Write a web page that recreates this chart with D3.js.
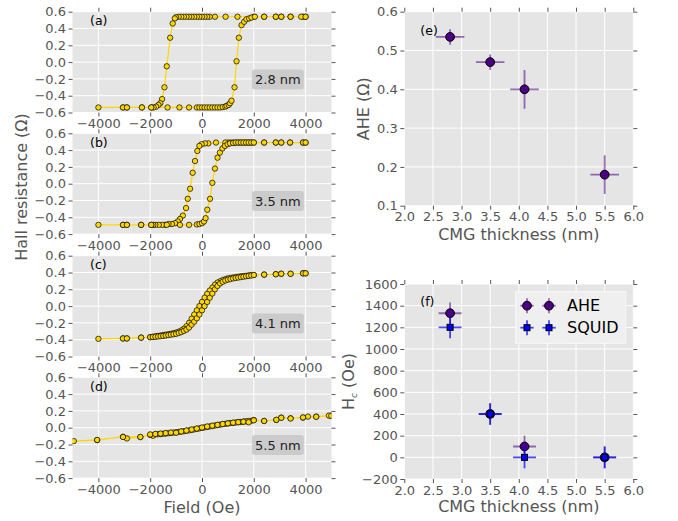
<!DOCTYPE html>
<html><head><meta charset="utf-8">
<script src="https://cdn.jsdelivr.net/npm/d3@7"></script>
<style>body{margin:0;background:#fff} text{font-family:"DejaVu Sans",sans-serif}</style>
</head><body><svg id="c" width="678" height="521"></svg>
<script>
// ---------- DATA ----------
const fieldTicks = [-4000, -2000, 0, 2000, 4000];
const resTicks = [-0.6, -0.4, -0.2, 0.0, 0.2, 0.4, 0.6];
const panelLabels = ["(a)", "(b)", "(c)", "(d)"];
const thicknessLabels = ["2.8 nm", "3.5 nm", "4.1 nm", "5.5 nm"];

// (field Oe, Hall resistance Ohm), measurement order: down sweep then up sweep
const loopA = [[4000,0.54],[3900,0.54],[3420,0.54],[3060,0.54],[2850,0.54],[2400,0.54],[2000,0.54],[1370,0.54],[910,0.54],[500,0.54],[300,0.54],[200,0.54],[100,0.54],[0,0.54],[-100,0.54],[-200,0.54],[-300,0.54],[-400,0.54],[-500,0.54],[-600,0.54],[-700,0.54],[-800,0.54],[-900,0.54],[-1000,0.535],[-1050,0.52],[-1130,0.46],[-1230,0.29],[-1360,-0.05],[-1450,-0.30],[-1540,-0.44],[-1610,-0.49],[-1680,-0.51],[-1770,-0.53],[-1870,-0.54],[-1960,-0.54],[-2320,-0.54],[-2900,-0.54],[-3050,-0.54],[-4000,-0.54],
[-3050,-0.54],[-2900,-0.54],[-2320,-0.54],[-1960,-0.54],[-1330,-0.54],[-870,-0.54],[-500,-0.54],[-200,-0.54],[-100,-0.54],[0,-0.54],[100,-0.54],[200,-0.54],[300,-0.54],[400,-0.54],[500,-0.54],[600,-0.54],[700,-0.54],[800,-0.535],[900,-0.53],[950,-0.52],[1030,-0.51],[1080,-0.49],[1140,-0.46],[1256,-0.30],[1333,0.01],[1423,0.29],[1526,0.44],[1628,0.48],[1718,0.51],[1820,0.52],[1910,0.53],[2040,0.54],[2400,0.54],[2850,0.54],[3060,0.54],[3420,0.54],[3830,0.54],[4000,0.54]];

const loopB = [[4000,0.49],[3900,0.49],[3400,0.49],[3060,0.49],[2850,0.49],[2400,0.49],[2000,0.49],[1900,0.49],[1800,0.49],[1700,0.49],[1600,0.49],[1500,0.49],[1400,0.49],[1300,0.49],[1200,0.49],[1100,0.49],[1000,0.49],[900,0.49],[540,0.49],[244,0.48],[115,0.48],[-13,0.47],[-100,0.45],[-180,0.39],[-270,0.27],[-360,0.13],[-460,-0.06],[-550,-0.18],[-615,-0.29],[-740,-0.38],[-850,-0.42],[-935,-0.45],[-1040,-0.47],[-1160,-0.48],[-1290,-0.48],[-1420,-0.49],[-1540,-0.49],[-1670,-0.49],[-1800,-0.49],[-1880,-0.49],[-1960,-0.49],[-2350,-0.49],[-2900,-0.49],[-3050,-0.49],[-4000,-0.49],
[-3050,-0.49],[-2900,-0.49],[-2350,-0.49],[-1960,-0.49],[-1360,-0.49],[-850,-0.49],[-500,-0.49],[-200,-0.485],[-100,-0.48],[0,-0.47],[77,-0.45],[140,-0.41],[205,-0.31],[310,-0.18],[400,0.01],[500,0.18],[600,0.31],[690,0.37],[790,0.42],[885,0.45],[990,0.47],[1080,0.48],[1200,0.485],[1300,0.49],[1400,0.49],[1500,0.49],[1600,0.49],[1700,0.49],[1800,0.49],[1900,0.49],[2000,0.49],[2400,0.49],[2850,0.49],[3060,0.49],[3400,0.49],[3900,0.49],[4000,0.49]];

const loopC = [[4000,0.39],[3900,0.39],[3420,0.385],[3060,0.385],[2850,0.38],[2400,0.375],[2000,0.37],[1900,0.368],[1800,0.365],[1700,0.362],[1600,0.358],[1500,0.355],[1400,0.35],[1300,0.345],[1200,0.34],[1100,0.335],[1000,0.33],[900,0.32],[800,0.31],[700,0.295],[600,0.28],[500,0.255],[400,0.22],[300,0.185],[200,0.145],[100,0.1],[0,0.05],[-100,0.0],[-200,-0.05],[-300,-0.1],[-400,-0.15],[-500,-0.2],[-600,-0.24],[-700,-0.27],[-800,-0.29],[-900,-0.305],[-1000,-0.315],[-1100,-0.322],[-1200,-0.33],[-1300,-0.335],[-1400,-0.34],[-1500,-0.345],[-1600,-0.35],[-1700,-0.355],[-1800,-0.36],[-1900,-0.365],[-2000,-0.37],[-2350,-0.375],[-2900,-0.385],[-3050,-0.385],[-4000,-0.39],
[-3050,-0.385],[-2900,-0.385],[-2350,-0.375],[-2000,-0.37],[-1900,-0.368],[-1800,-0.365],[-1700,-0.362],[-1600,-0.358],[-1500,-0.355],[-1400,-0.35],[-1300,-0.345],[-1200,-0.34],[-1100,-0.335],[-1000,-0.33],[-900,-0.32],[-800,-0.31],[-700,-0.295],[-600,-0.28],[-500,-0.255],[-400,-0.22],[-300,-0.185],[-200,-0.145],[-100,-0.1],[0,-0.05],[100,0.0],[200,0.05],[300,0.1],[400,0.15],[500,0.2],[600,0.24],[700,0.27],[800,0.29],[900,0.305],[1000,0.315],[1100,0.322],[1200,0.33],[1300,0.335],[1400,0.34],[1500,0.345],[1600,0.35],[1700,0.355],[1800,0.36],[1900,0.365],[2000,0.37],[2400,0.375],[2850,0.38],[3060,0.385],[3420,0.385],[3900,0.39],[4000,0.39]];

const loopD = [[4990,0.144],[4900,0.144],[4410,0.132],[4090,0.132],[3900,0.12],[3420,0.112],[3060,0.12],[2870,0.092],[2400,0.08],[2000,0.092],[1900,0.082],[1800,0.08],[1700,0.076],[1600,0.072],[1500,0.068],[1400,0.066],[1300,0.062],[1200,0.058],[1100,0.055],[1000,0.05],[900,0.046],[800,0.042],[700,0.036],[600,0.032],[500,0.026],[400,0.02],[300,0.015],[200,0.01],[100,0.004],[0,-0.002],[-100,-0.008],[-200,-0.014],[-300,-0.02],[-400,-0.026],[-500,-0.032],[-600,-0.036],[-700,-0.042],[-800,-0.046],[-900,-0.05],[-1000,-0.055],[-1100,-0.058],[-1200,-0.062],[-1300,-0.066],[-1400,-0.07],[-1500,-0.072],[-1600,-0.076],[-1700,-0.078],[-1800,-0.08],[-1900,-0.096],[-2000,-0.085],[-2380,-0.112],[-2900,-0.128],[-3050,-0.108],[-4050,-0.148],[-4950,-0.16],
[-4050,-0.146],[-3050,-0.11],[-2380,-0.11],[-2000,-0.08],[-1800,-0.074],[-1600,-0.07],[-1400,-0.064],[-1200,-0.058],[-1000,-0.06],[-800,-0.044],[-600,-0.034],[-400,-0.022],[-200,-0.01],[0,0.002],[200,0.014],[400,0.024],[600,0.034],[800,0.044],[1000,0.052],[1200,0.06],[1400,0.066],[1600,0.072],[1800,0.065],[2000,0.088],[2400,0.08],[2870,0.094],[3060,0.118],[3420,0.11],[3900,0.122],[4410,0.13],[4990,0.142]];

const loops = [loopA, loopB, loopC, loopD];

// Panels (e), (f)
const thickness = [2.8, 3.5, 4.1, 5.5];
const aheValue = [0.535, 0.47, 0.40, 0.18];
const aheValueErr = [0.02, 0.02, 0.05, 0.05];
const thicknessErrE = [0.25, 0.25, 0.25, 0.25];
const hcAHE = [1330, 400, 100, 0];
const hcSQUID = [1200, 400, 0, 0];
const hcErr = [100, 100, 100, 100];
const thicknessErrF = [0.2, 0.2, 0.2, 0.2];
const thickTicks = [2.0, 2.5, 3.0, 3.5, 4.0, 4.5, 5.0, 5.5, 6.0];
const aheTicks = [0.1, 0.2, 0.3, 0.4, 0.5, 0.6];
const hcTicks = [-200, 0, 200, 400, 600, 800, 1000, 1200, 1400, 1600];
const legendLabels = ["AHE", "SQUID"];

// ---------- DRAW ----------
const svg = d3.select("#c");
const BG = "#E5E5E5", TXT = "#555555";
const INDIGO = "#4B0082", BLUE = "#0000FF", GOLD = "#FFD700";
let clipId = 0;

function drawAxes(x, y, xTicks, yTicks, xFmt, yFmt) {
  const [x0, x1] = x.range(), [yb, yt] = y.range();
  svg.append("rect").attr("x", x0).attr("y", yt).attr("width", x1 - x0).attr("height", yb - yt).attr("fill", BG);
  const grid = svg.append("g").attr("stroke", "#fff").attr("stroke-width", 1);
  xTicks.forEach(t => grid.append("line").attr("x1", x(t)).attr("x2", x(t)).attr("y1", yt).attr("y2", yb));
  yTicks.forEach(t => grid.append("line").attr("x1", x0).attr("x2", x1).attr("y1", y(t)).attr("y2", y(t)));
  const axes = [
    [d3.axisBottom(x).tickValues(xTicks).tickFormat(xFmt), `translate(0,${yb})`],
    [d3.axisTop(x).tickValues(xTicks).tickFormat(""), `translate(0,${yt})`],
    [d3.axisLeft(y).tickValues(yTicks).tickFormat(yFmt), `translate(${x0},0)`],
    [d3.axisRight(y).tickValues(yTicks).tickFormat(""), `translate(${x1},0)`]
  ];
  axes.forEach(([ax, tr]) => {
    const g = svg.append("g").attr("transform", tr).call(ax.tickSize(4).tickPadding(2.5));
    g.select(".domain").remove();
    g.selectAll(".tick line").attr("stroke", TXT).attr("stroke-width", 1);
    g.selectAll(".tick text").attr("fill", TXT).attr("font-size", 13).attr("font-family", "DejaVu Sans");
  });
}
function clipGroup(x, y) {
  const id = "clip" + (clipId++);
  const [x0, x1] = x.range(), [yb, yt] = y.range();
  svg.append("clipPath").attr("id", id).append("rect").attr("x", x0).attr("y", yt).attr("width", x1 - x0).attr("height", yb - yt);
  return svg.append("g").attr("clip-path", `url(#${id})`);
}

// Hysteresis panels
const hx0 = 72.5, hx1 = 331.5;
const panelTops = [11.7, 133.3, 255.7, 377.3];
const panelH = 100.8;
const fmt1 = d3.format(".1f");
loops.forEach((loop, i) => {
  const top = panelTops[i];
  const x = d3.scaleLinear().domain([-5000, 5000]).range([hx0, hx1]);
  const y = d3.scaleLinear().domain([-0.6, 0.6]).range([top + panelH, top]);
  drawAxes(x, y, fieldTicks, resTicks, d3.format("d"), fmt1);
  const g = clipGroup(x, y);
  g.append("path").datum(loop).attr("fill", "none").attr("stroke", GOLD).attr("stroke-width", 1.2)
    .attr("d", d3.line().x(d => x(d[0])).y(d => y(d[1])));
  g.selectAll("circle.m").data(loop).join("circle").attr("cx", d => x(d[0])).attr("cy", d => y(d[1]))
    .attr("r", 2.7).attr("fill", GOLD).attr("stroke", "#000").attr("stroke-width", 0.7);
  svg.append("text").attr("x", hx0 + 17.5).attr("y", top + 13.3).attr("font-size", 12.5).attr("fill", "#000").text(panelLabels[i]);
  const cx = hx0 + 0.793 * (hx1 - hx0), cy = top + 67.8;
  svg.append("rect").attr("x", cx - 26).attr("y", cy - 10).attr("width", 52).attr("height", 20).attr("rx", 3).attr("fill", "#cbcbcb");
  svg.append("text").attr("x", cx).attr("y", cy).attr("dy", "0.36em").attr("text-anchor", "middle").attr("font-size", 13).attr("fill", "#222").text(thicknessLabels[i]);
});
svg.append("text").attr("x", 202).attr("y", 513).attr("text-anchor", "middle").attr("font-size", 16).attr("fill", TXT).text("Field (Oe)");
svg.append("text").attr("transform", "translate(26.5,187) rotate(-90)").attr("text-anchor", "middle").attr("font-size", 16).attr("fill", TXT).text("Hall resistance (Ω)");

// errorbar helper
function errPoints(g, x, y, xs, ys, xe, ye, color, op, shape) {
  xs.forEach((xv, i) => {
    g.append("line").attr("x1", x(xv - xe[i])).attr("x2", x(xv + xe[i])).attr("y1", y(ys[i])).attr("y2", y(ys[i]))
      .attr("stroke", color).attr("stroke-opacity", op).attr("stroke-width", 1.8);
    g.append("line").attr("x1", x(xv)).attr("x2", x(xv)).attr("y1", y(ys[i] - ye[i])).attr("y2", y(ys[i] + ye[i]))
      .attr("stroke", color).attr("stroke-opacity", op).attr("stroke-width", 1.8);
  });
  xs.forEach((xv, i) => {
    if (shape === "circle") g.append("circle").attr("cx", x(xv)).attr("cy", y(ys[i])).attr("r", 4.4).attr("fill", color).attr("stroke", "#000").attr("stroke-width", 1);
    else g.append("rect").attr("x", x(xv) - 3).attr("y", y(ys[i]) - 3).attr("width", 6).attr("height", 6).attr("fill", color).attr("stroke", "#000").attr("stroke-width", 1);
  });
}

// Panel (e)
const rx0 = 404.3, rx1 = 633.3;
{
  const x = d3.scaleLinear().domain([2.0, 6.0]).range([rx0, rx1]);
  const y = d3.scaleLinear().domain([0.1, 0.6]).range([205.7, 11.7]);
  drawAxes(x, y, thickTicks, aheTicks, fmt1, fmt1);
  const g = clipGroup(x, y);
  errPoints(g, x, y, thickness, aheValue, thicknessErrE, aheValueErr, INDIGO, 0.55, "circle");
  svg.append("text").attr("x", x(2.28)).attr("y", y(0.54)).attr("font-size", 12.5).attr("fill", "#000").text("(e)");
  svg.append("text").attr("x", (rx0 + rx1) / 2).attr("y", 240).attr("text-anchor", "middle").attr("font-size", 16).attr("fill", TXT).text("CMG thickness (nm)");
  svg.append("text").attr("transform", `translate(369,${(205.7 + 11.7) / 2}) rotate(-90)`).attr("text-anchor", "middle").attr("font-size", 16).attr("fill", TXT).text("AHE (Ω)");
}
// Panel (f)
{
  const x = d3.scaleLinear().domain([2.0, 6.0]).range([rx0, rx1]);
  const y = d3.scaleLinear().domain([-200, 1600]).range([479, 284]);
  drawAxes(x, y, thickTicks, hcTicks, fmt1, d3.format("d"));
  const g = clipGroup(x, y);
  errPoints(g, x, y, thickness, hcAHE, thicknessErrF, hcErr, INDIGO, 0.55, "circle");
  errPoints(g, x, y, thickness, hcSQUID, thicknessErrF, hcErr, BLUE, 0.7, "square");
  svg.append("text").attr("x", x(2.28)).attr("y", y(1400)).attr("font-size", 12.5).attr("fill", "#000").text("(f)");
  svg.append("text").attr("x", (rx0 + rx1) / 2).attr("y", 512).attr("text-anchor", "middle").attr("font-size", 16).attr("fill", TXT).text("CMG thickness (nm)");
  const t = svg.append("text").attr("transform", `translate(354,381.5) rotate(-90)`).attr("text-anchor", "middle").attr("font-size", 16).attr("fill", TXT);
  t.append("tspan").text("H");
  t.append("tspan").attr("font-size", 9).attr("font-style", "italic").attr("dy", 3).text("c");
  t.append("tspan").attr("dy", -3).text(" (Oe)");
  // legend
  const lg = svg.append("g");
  lg.append("rect").attr("x", 515.7).attr("y", 291.7).attr("width", 110).attr("height", 51.6).attr("fill", "#efefef").attr("stroke", "#f8f8f8");
  const rows = [[INDIGO, 0.55, "circle", 305.7], [BLUE, 0.7, "square", 327.7]];
  rows.forEach(([c, op, shape, yy], k) => {
    [527, 549].forEach(xx => {
      lg.append("line").attr("x1", xx - 6.7).attr("x2", xx + 6.7).attr("y1", yy).attr("y2", yy).attr("stroke", c).attr("stroke-opacity", op).attr("stroke-width", 1.8);
      lg.append("line").attr("x1", xx).attr("x2", xx).attr("y1", yy - 7.5).attr("y2", yy + 7.5).attr("stroke", c).attr("stroke-opacity", op).attr("stroke-width", 1.8);
      if (shape === "circle") lg.append("circle").attr("cx", xx).attr("cy", yy).attr("r", 4.4).attr("fill", c).attr("stroke", "#000");
      else lg.append("rect").attr("x", xx - 3).attr("y", yy - 3).attr("width", 6).attr("height", 6).attr("fill", c).attr("stroke", "#000");
    });
    lg.append("text").attr("x", 567).attr("y", yy).attr("dy", "0.36em").attr("font-size", 16).attr("fill", "#000").text(legendLabels[k]);
  });
}
</script></body></html>
